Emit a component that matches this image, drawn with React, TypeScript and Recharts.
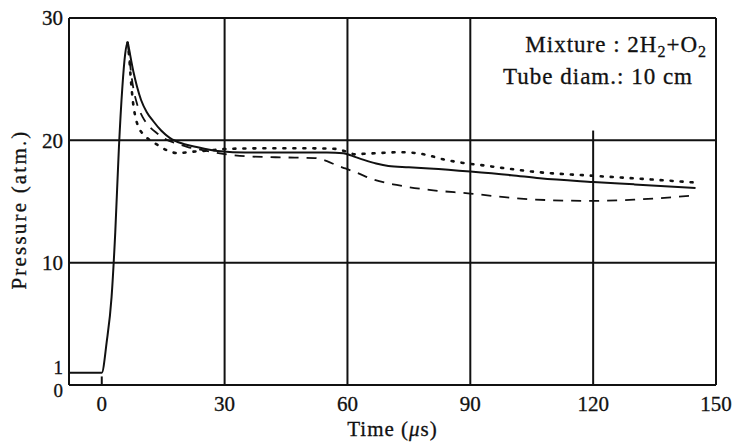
import React from 'react';
import { LineChart, Line, XAxis, YAxis, ReferenceLine, Label, Customized } from 'recharts';

// Pressure history, 2H2 + O2 in a 10 cm tube
const solidT = [-8, 0, 1.2, 2.4, 3.3, 4.2, 5.0, 5.7, 6.3, 6.7, 7.2, 7.8, 8.6, 9.6, 11, 12.5, 14.5, 16.6, 20, 23.2, 26, 29, 35, 45, 55, 59, 61, 64, 67, 70, 75, 80, 90, 100, 107, 120, 130, 145];
const solidP = [1, 1, 3.5, 7.2, 12.5, 19.5, 24.2, 27.0, 28.0, 27.4, 26.5, 25.5, 24.4, 23.3, 22.3, 21.6, 20.8, 20.2, 19.7, 19.45, 19.25, 19.1, 19.0, 19.0, 19.0, 18.95, 18.75, 18.4, 18.1, 17.9, 17.8, 17.7, 17.45, 17.15, 16.9, 16.6, 16.4, 16.1];

const dashT = [6.3, 6.7, 7.2, 7.8, 8.6, 10, 12, 13.4, 15.5, 18.3, 21, 24.7, 29.6, 35, 45, 52, 55, 57.4, 59.5, 62.3, 66.3, 72, 80, 90, 100, 110, 120, 130, 145];
const dashP = [28.0, 26.9, 25.4, 24.1, 23.0, 21.9, 21.0, 20.6, 20.1, 19.75, 19.45, 19.2, 18.9, 18.7, 18.6, 18.55, 18.3, 17.95, 17.7, 17.35, 16.8, 16.35, 15.95, 15.65, 15.3, 15.1, 15.05, 15.15, 15.5];

const dotT = [6.3, 6.7, 7.1, 7.6, 8.1, 9.1, 10.3, 12, 13.8, 15.8, 18.7, 21.5, 25.6, 30.5, 40, 50, 57, 59.5, 62, 64, 67, 73, 78.6, 83.4, 88.3, 93.2, 100, 105, 120, 132, 145];
const dotP = [28.0, 26.8, 25.0, 23.2, 22.1, 21.0, 20.45, 19.95, 19.6, 19.2, 18.95, 19.05, 19.15, 19.3, 19.35, 19.35, 19.3, 19.1, 18.85, 18.9, 18.95, 19.03, 18.86, 18.45, 18.15, 17.95, 17.65, 17.45, 17.1, 16.85, 16.55];

const xTicks = [0, 30, 60, 90, 120, 150];
const yTicks = [0, 1, 10, 20, 30];
const xGrid = [30, 60, 90];
const yGrid = [10, 20];

const toPoints = (t: number[], p: number[]) => t.map((v, i) => ({ t: v, p: p[i] }));

const FONT = '"Liberation Serif", "Times New Roman", serif';
const INK = '#111';

// the "1" and "0" labels sit almost on top of each other, nudge them apart
const YTick = (props: any) => {
  const { x, y, payload } = props;
  const shift = payload.value === 1 ? -6 : payload.value === 0 ? 5 : 0;
  const size = payload.value <= 1 ? 19 : 21;
  return (
    <text x={x} y={y + shift} dy="0.355em" textAnchor="end" fontFamily={FONT} fontSize={size}
      fill={INK} stroke={INK} strokeWidth={0.3}>
      {payload.value}
    </text>
  );
};

const XTick = (props: any) => {
  const { x, y, payload } = props;
  return (
    <text x={x} y={y} dy="0.75em" textAnchor="middle" fontFamily={FONT} fontSize={21}
      fill={INK} stroke={INK} strokeWidth={0.3}>
      {payload.value}
    </text>
  );
};

const TimeLabel = (props: any) => {
  const { viewBox } = props;
  const cx = viewBox.x + viewBox.width / 2;
  return (
    <text x={cx} y={viewBox.y + 51} textAnchor="middle" fontFamily={FONT} fontSize={21} letterSpacing={1}
      fill={INK} stroke={INK} strokeWidth={0.3}>
      Time (<tspan fontStyle="italic">μ</tspan>s)
    </text>
  );
};

const PressureLabel = (props: any) => {
  const { viewBox } = props;
  const cx = 19;
  const cy = viewBox.y + viewBox.height / 2 + 8;
  return (
    <text x={cx} y={cy} transform={`rotate(-90 ${cx} ${cy})`} textAnchor="middle" dominantBaseline="central"
      fontFamily={FONT} fontSize={21} letterSpacing={2.2} fill={INK} stroke={INK} strokeWidth={0.3}>
      Pressure (atm.)
    </text>
  );
};

const Note = () => (
  <g fontFamily={FONT} fontSize={23} fill={INK} stroke={INK} strokeWidth={0.3} letterSpacing={1}>
    <text x={707} y={52} textAnchor="end">
      Mixture : 2H<tspan dy={5} fontSize={16}>2</tspan><tspan dy={-5}>+O</tspan><tspan dy={5} fontSize={16}>2</tspan>
    </text>
    <text x={693} y={84} textAnchor="end">Tube diam.: 10 cm</text>
  </g>
);

export default function App() {
  return (
    <div style={{ position: 'absolute', left: 0, top: 0, background: '#fff' }}>
      <LineChart width={732} height={444} margin={{ top: 18, right: 16, left: 0, bottom: 0 }}>
        <XAxis
          type="number"
          dataKey="t"
          domain={[-8, 150]}
          ticks={xTicks}
          allowDataOverflow
          height={59}
          tickLine={false}
          tickMargin={4}
          axisLine={{ stroke: INK, strokeWidth: 2 }}
          tick={<XTick />}
        >
          <Label content={<TimeLabel />} />
        </XAxis>
        <YAxis
          type="number"
          dataKey="p"
          domain={[0, 30]}
          ticks={yTicks}
          allowDataOverflow
          width={69}
          tickLine={false}
          tickMargin={0}
          interval={0}
          axisLine={{ stroke: INK, strokeWidth: 2 }}
          tick={<YTick />}
        >
          <Label content={<PressureLabel />} />
        </YAxis>

        {/* frame and grid */}
        <ReferenceLine y={30} stroke={INK} strokeWidth={2} ifOverflow="visible" />
        <ReferenceLine x={150} stroke={INK} strokeWidth={2} ifOverflow="visible" />
        {xGrid.map((v) => (
          <ReferenceLine key={`x${v}`} x={v} stroke={INK} strokeWidth={2} />
        ))}
        <ReferenceLine segment={[{ x: 120, y: 0 }, { x: 120, y: 20.8 }]} stroke={INK} strokeWidth={2} />
        {yGrid.map((v) => (
          <ReferenceLine key={`y${v}`} y={v} stroke={INK} strokeWidth={2} />
        ))}
        <ReferenceLine segment={[{ x: 0, y: 0 }, { x: 0, y: 0.7 }]} stroke={INK} strokeWidth={2} />

        <Line data={toPoints(dotT, dotP)} dataKey="p" type="monotone" stroke={INK} strokeWidth={2.6}
          strokeDasharray="2 8" strokeLinecap="round" dot={false} isAnimationActive={false} />
        <Line data={toPoints(dashT, dashP)} dataKey="p" type="monotone" stroke={INK} strokeWidth={1.8}
          strokeDasharray="10 8" dot={false} isAnimationActive={false} />
        <Line data={toPoints(solidT, solidP)} dataKey="p" type="monotone" stroke={INK} strokeWidth={2}
          dot={false} isAnimationActive={false} />

        <Customized component={Note} />
      </LineChart>
    </div>
  );
}
